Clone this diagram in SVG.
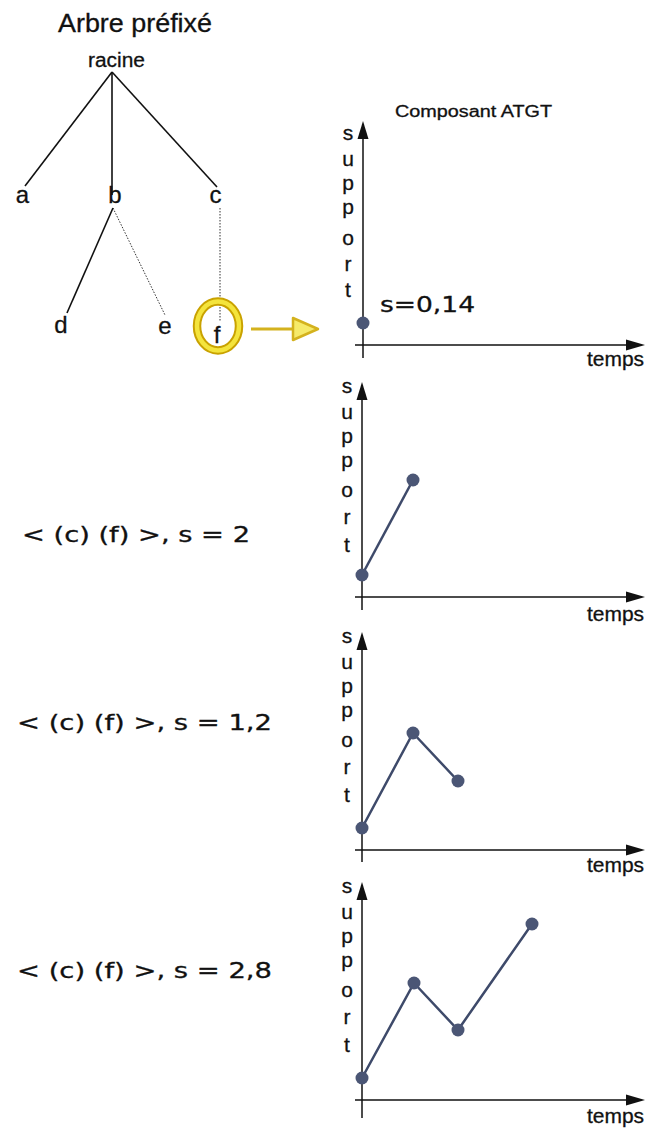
<svg xmlns="http://www.w3.org/2000/svg" width="651" height="1133" viewBox="0 0 651 1133">
<style>
.t{font-family:"Liberation Sans",Arial,sans-serif;fill:#111;stroke:#111;stroke-width:0.3}
.d{font-family:"DejaVu Sans","Liberation Sans",sans-serif;fill:#111;stroke:#111;stroke-width:0.3}
.edge{stroke:#111;stroke-width:1.6;fill:none}
.dot{stroke:#333;stroke-width:1;stroke-dasharray:1.5 1.5;fill:none}
.ax{stroke:#111;stroke-width:1.5;fill:none}
.ah{fill:#111}
.ser{stroke:#3E4A6A;stroke-width:2.5;fill:none}
.pt{fill:#4B5675}
.lt{font-family:"Liberation Sans",Arial,sans-serif;font-size:21px;fill:#111;stroke:#111;stroke-width:0.3;text-anchor:middle}
</style>
<rect width="651" height="1133" fill="#fff"/>
<text class="t" x="58" y="32" font-size="25" textLength="154" lengthAdjust="spacingAndGlyphs">Arbre préfixé</text>
<g id="connectors">
<line class="edge" x1="112" y1="72" x2="25" y2="186"/>
<line class="edge" x1="112" y1="72" x2="112" y2="195"/>
<line class="edge" x1="112" y1="72" x2="217" y2="187"/>
<line class="edge" x1="113" y1="208" x2="67" y2="313"/>
<line class="dot" x1="113" y1="208" x2="165" y2="315"/>
<line class="dot" x1="220" y1="208" x2="220" y2="322"/>
</g>
<g id="n-racine"><text class="t" x="88" y="67" font-size="20" textLength="57" lengthAdjust="spacingAndGlyphs">racine</text></g>
<g id="n-a"><text class="t" x="22.5" y="203" font-size="24" text-anchor="middle">a</text></g>
<g id="n-b"><text class="t" x="115" y="203" font-size="24" text-anchor="middle">b</text></g>
<g id="n-c"><text class="t" x="215.5" y="203" font-size="24" text-anchor="middle">c</text></g>
<g id="n-d"><text class="t" x="61" y="333" font-size="24" text-anchor="middle">d</text></g>
<g id="n-e"><text class="t" x="165" y="334" font-size="24" text-anchor="middle">e</text></g>
<g id="n-f">
<ellipse cx="218" cy="326" rx="21" ry="24.5" fill="none" stroke="#C9A200" stroke-width="8.5"/>
<ellipse cx="218" cy="326" rx="21" ry="24.5" fill="none" stroke="#F4E43C" stroke-width="4.5"/>
<text class="t" x="217" y="343" font-size="24" text-anchor="middle">f</text>
</g>
<g id="highlight-arrow">
<line x1="251" y1="329" x2="294" y2="329" stroke="#D4B21E" stroke-width="3"/>
<polygon points="293,318 318,329 293,340" fill="#F6EA6A" stroke="#D4B21E" stroke-width="2.5" stroke-linejoin="round"/>
</g>
<text class="t" x="395" y="117" font-size="16" textLength="157" lengthAdjust="spacingAndGlyphs">Composant ATGT</text>

<g id="chart1">
<line class="ax" x1="363" y1="136" x2="363" y2="358"/>
<polygon class="ah" points="363,121 357.5,139 368.5,139"/>
<line class="ax" x1="355" y1="345" x2="628" y2="345"/>
<polygon class="ah" points="645,345 626,339.5 626,350.5"/>
<text class="lt" x="348" y="140">s</text><text class="lt" x="348" y="166">u</text><text class="lt" x="348" y="190">p</text><text class="lt" x="348" y="214">p</text><text class="lt" x="348" y="245">o</text><text class="lt" x="348" y="271">r</text><text class="lt" x="348" y="297">t</text>
<text class="t" x="587" y="366" font-size="20" textLength="57" lengthAdjust="spacingAndGlyphs">temps</text>
<text class="d" x="380" y="312" font-size="21" textLength="95" lengthAdjust="spacingAndGlyphs">s=0,14</text>
<circle class="pt" cx="363" cy="323" r="6.5"/>
</g>

<g id="chart2">
<line class="ax" x1="362" y1="397" x2="362" y2="610"/>
<polygon class="ah" points="362,382 356.5,400 367.5,400"/>
<line class="ax" x1="355" y1="597" x2="628" y2="597"/>
<polygon class="ah" points="645,597 626,591.5 626,602.5"/>
<text class="lt" x="347" y="393">s</text><text class="lt" x="347" y="419">u</text><text class="lt" x="347" y="443">p</text><text class="lt" x="347" y="467">p</text><text class="lt" x="347" y="497">o</text><text class="lt" x="347" y="524">r</text><text class="lt" x="347" y="552">t</text>
<text class="t" x="587" y="621" font-size="20" textLength="57" lengthAdjust="spacingAndGlyphs">temps</text>
<polyline class="ser" points="362,575 413,480"/>
<circle class="pt" cx="362" cy="575" r="6.5"/><circle class="pt" cx="413" cy="480" r="6.5"/>
</g>

<g id="chart3">
<line class="ax" x1="362" y1="647" x2="362" y2="862"/>
<polygon class="ah" points="362,632 356.5,650 367.5,650"/>
<line class="ax" x1="355" y1="850" x2="628" y2="850"/>
<polygon class="ah" points="645,850 626,844.5 626,855.5"/>
<text class="lt" x="347" y="643">s</text><text class="lt" x="347" y="669">u</text><text class="lt" x="347" y="693">p</text><text class="lt" x="347" y="717">p</text><text class="lt" x="347" y="747">o</text><text class="lt" x="347" y="774">r</text><text class="lt" x="347" y="802">t</text>
<text class="t" x="587" y="872" font-size="20" textLength="57" lengthAdjust="spacingAndGlyphs">temps</text>
<polyline class="ser" points="362,828 413,733 458,781"/>
<circle class="pt" cx="362" cy="828" r="6.5"/><circle class="pt" cx="413" cy="733" r="6.5"/><circle class="pt" cx="458" cy="781" r="6.5"/>
</g>

<g id="chart4">
<line class="ax" x1="362" y1="897" x2="362" y2="1118"/>
<polygon class="ah" points="362,882 356.5,900 367.5,900"/>
<line class="ax" x1="355" y1="1100" x2="628" y2="1100"/>
<polygon class="ah" points="645,1100 626,1094.5 626,1105.5"/>
<text class="lt" x="347" y="893">s</text><text class="lt" x="347" y="919">u</text><text class="lt" x="347" y="943">p</text><text class="lt" x="347" y="967">p</text><text class="lt" x="347" y="997">o</text><text class="lt" x="347" y="1024">r</text><text class="lt" x="347" y="1052">t</text>
<text class="t" x="587" y="1123" font-size="20" textLength="57" lengthAdjust="spacingAndGlyphs">temps</text>
<polyline class="ser" points="362,1078 414,983 458,1030 532,924"/>
<circle class="pt" cx="362" cy="1078" r="6.5"/><circle class="pt" cx="414" cy="983" r="6.5"/><circle class="pt" cx="458" cy="1030" r="6.5"/><circle class="pt" cx="532" cy="924" r="6.5"/>
</g>

<g id="labels">
<text class="d" x="22" y="542" font-size="21" textLength="228" lengthAdjust="spacingAndGlyphs">&lt; (c) (f) &gt;, s = 2</text>
<text class="d" x="17" y="730" font-size="21" textLength="255" lengthAdjust="spacingAndGlyphs">&lt; (c) (f) &gt;, s = 1,2</text>
<text class="d" x="17" y="978" font-size="21" textLength="255" lengthAdjust="spacingAndGlyphs">&lt; (c) (f) &gt;, s = 2,8</text>
</g>
</svg>
